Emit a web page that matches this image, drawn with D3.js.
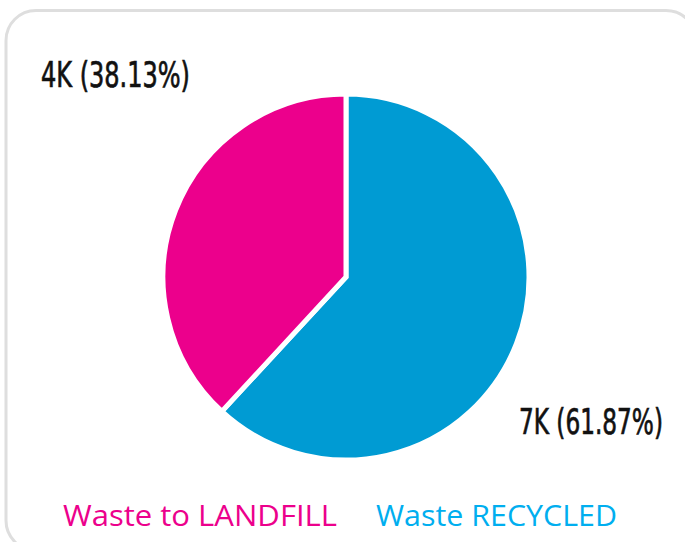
<!DOCTYPE html>
<html>
<head>
<meta charset="utf-8">
<script src="https://cdn.jsdelivr.net/npm/d3@7"></script>
<style>
  html, body { margin: 0; padding: 0; background: #fff; }
  svg { display: block; }
</style>
</head>
<body>
<svg id="chart" width="685" height="542"></svg>
<script>
// Waste split, drawn clockwise from 12 o'clock
const categories = ["Waste RECYCLED", "Waste to LANDFILL"];
const sharePct = [61.87, 38.13];
const valueLabels = ["7K", "4K"];
const sliceColors = ["#009bd3", "#ec008c"];
const legendColors = ["#00aeef", "#ec008c"];
const legendOrder = ["Waste to LANDFILL", "Waste RECYCLED"];

const W = 685, H = 542;
const svg = d3.select("#chart");

// card frame
svg.append("rect")
  .attr("x", 6).attr("y", 10.5)
  .attr("width", 690).attr("height", 540)
  .attr("rx", 30).attr("ry", 30)
  .attr("fill", "#fff")
  .attr("stroke", "#dedede")
  .attr("stroke-width", 3);

const cx = 346, cy = 277, radius = 183;

const data = categories.map((c, i) => ({ name: c, pct: sharePct[i], label: valueLabels[i] }));
const color = d3.scaleOrdinal().domain(categories).range(sliceColors);

const pie = d3.pie().sort(null).value(d => d.pct);
const arc = d3.arc().innerRadius(0).outerRadius(radius);

const g = svg.append("g").attr("transform", `translate(${cx},${cy})`);
g.selectAll("path")
  .data(pie(data))
  .join("path")
  .attr("d", arc)
  .attr("fill", d => color(d.data.name))
  .attr("stroke", "#fff")
  .attr("stroke-width", 5)
  .attr("stroke-linejoin", "miter");

// data labels in a tall condensed face: set size, then squeeze horizontally
const fmt = d => `${d.label} (${d.pct.toFixed(2)}%)`;
const labelFont = "'Liberation Sans Narrow', 'DejaVu Sans Condensed', sans-serif";
const labelPos = {
  "Waste to LANDFILL": { x: 41, y: 87, w: 149 },
  "Waste RECYCLED": { x: 519, y: 434, w: 144 }
};
svg.append("g").selectAll("text")
  .data(data)
  .join("text")
  .attr("font-family", labelFont)
  .attr("font-size", 36)
  .attr("fill", "#111")
  .attr("stroke", "#111")
  .attr("stroke-width", 0.7)
  .text(fmt)
  .each(function (d) {
    const p = labelPos[d.name];
    const bw = this.getBBox().width;
    const sx = p.w / bw;
    d3.select(this).attr("transform", `translate(${p.x},${p.y}) scale(${sx},1)`);
  });

// legend
const legendX = { "Waste to LANDFILL": 63, "Waste RECYCLED": 376 };
const legendLen = { "Waste to LANDFILL": 274, "Waste RECYCLED": 241 };
const legendColor = d3.scaleOrdinal().domain(categories).range(legendColors);
svg.append("g").selectAll("text")
  .data(legendOrder)
  .join("text")
  .attr("x", d => legendX[d])
  .attr("y", 526)
  .attr("font-family", "'Open Sans', 'Noto Sans', sans-serif")
  .attr("font-size", 29)
  .attr("fill", d => legendColor(d))
  .attr("textLength", d => legendLen[d])
  .attr("lengthAdjust", "spacingAndGlyphs")
  .text(d => d);
</script>
</body>
</html>
